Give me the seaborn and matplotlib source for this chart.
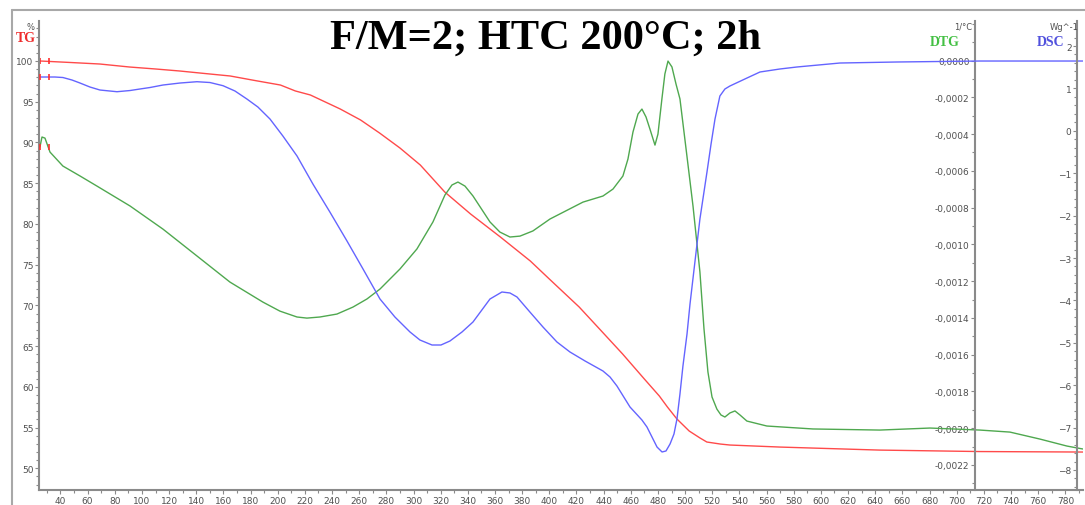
import matplotlib
matplotlib.use('Agg')
import matplotlib.pyplot as plt
import matplotlib.ticker as mticker
from matplotlib.lines import Line2D
import seaborn as sns
import pandas as pd

# TG curve, mass in %
tg_temp = [25, 47, 69, 91, 110, 128, 146, 165, 183, 202, 213, 224, 235, 246, 261,
           275, 290, 305, 323, 342, 364, 386, 400, 422, 437, 454, 470, 481, 487,
           494, 503, 511, 516, 526, 533, 570, 643, 717, 793]
tg_mass = [100.0, 99.82, 99.63, 99.26, 99.02, 98.77, 98.47, 98.16, 97.61, 97.05,
           96.32, 95.83, 94.97, 94.11, 92.76, 91.16, 89.32, 87.23, 83.92, 81.22,
           78.39, 75.45, 73.24, 69.80, 67.10, 64.03, 60.96, 58.88, 57.52, 56.05,
           54.58, 53.72, 53.23, 52.98, 52.86, 52.61, 52.24, 52.06, 52.0]

# DTG curve, 1/°C (read in units of 1e-4)
dtg_temp = [24.9, 26.4, 28.6, 32.3, 41.8, 54.4, 66.9, 91.2, 115.5, 140.5,
            164.8, 189.1, 201.6, 214.2, 221.5, 231.1, 243.6, 255.4, 265.7, 275.3,
            290.0, 302.5, 314.3, 323.1, 328.3, 332.7, 337.9, 343.8, 356.3, 363.6,
            371.0, 378.4, 387.9, 400.5, 424.8, 439.5, 446.9, 454.2, 457.9, 461.6,
            465.3, 468.2, 471.2, 474.1, 477.8, 480.0, 482.9, 485.1, 487.4, 490.3,
            493.3, 496.2, 500.7, 505.8, 510.9, 513.9, 516.8, 519.8, 523.4, 526.4,
            529.3, 533.0, 536.7, 540.4, 545.5, 560.2, 594.1, 643.4, 680.3, 717.1,
            739.2, 761.3, 781.2, 792.9]
dtg_e4 = [-4.70, -4.16, -4.22, -4.98, -5.74, -6.28, -6.83, -7.91, -9.17, -10.63,
          -12.05, -13.14, -13.63, -13.95, -14.01, -13.95, -13.79, -13.41, -12.97,
          -12.43, -11.34, -10.25, -8.78, -7.32, -6.77, -6.61, -6.83, -7.37, -8.78,
          -9.33, -9.60, -9.55, -9.27, -8.62, -7.70, -7.37, -6.99, -6.28, -5.36,
          -3.89, -2.91, -2.64, -3.07, -3.73, -4.60, -4.00, -2.09, -0.73, -0.03,
          -0.35, -1.28, -2.09, -4.81, -7.91, -11.50, -14.60, -16.94, -18.30,
          -18.96, -19.28, -19.39, -19.17, -19.06, -19.28, -19.61, -19.88, -20.04,
          -20.10, -19.99, -20.10, -20.21, -20.59, -20.97, -21.13]

# DSC curve, W/g
dsc_temp = [24.9, 35.9, 41.8, 48.5, 54.4, 61.7, 69.1, 81.6, 91.2, 98.5, 105.9,
            115.5, 128.0, 140.5, 150.1, 159.7, 168.5, 177.3, 185.4, 194.3, 203.8,
            214.2, 225.9, 238.4, 251.0, 262.8, 275.3, 286.3, 297.4, 304.7, 313.6,
            320.2, 326.8, 335.7, 343.8, 356.3, 365.1, 371.0, 376.2, 385.7, 395.3,
            405.6, 415.2, 426.3, 439.5, 444.7, 449.8, 459.4, 468.2, 471.9, 475.6,
            479.3, 483.0, 485.9, 488.9, 491.8, 494.0, 496.2, 498.4, 501.4, 503.6,
            507.3, 510.9, 516.1, 519.1, 522.0, 525.6, 529.3, 533.0, 544.0, 555.1,
            569.8, 582.3, 614.0, 656.0, 717.1, 792.9]
dsc_flow = [1.269, 1.269, 1.257, 1.198, 1.127, 1.033, 0.962, 0.922, 0.950, 0.986,
            1.021, 1.080, 1.127, 1.158, 1.139, 1.064, 0.939, 0.750, 0.561, 0.278,
            -0.123, -0.594, -1.255, -1.915, -2.599, -3.259, -3.967, -4.392, -4.745,
            -4.934, -5.052, -5.052, -4.958, -4.745, -4.509, -3.967, -3.802, -3.825,
            -3.920, -4.274, -4.627, -4.981, -5.217, -5.429, -5.665, -5.807, -6.019,
            -6.514, -6.821, -6.986, -7.222, -7.458, -7.575, -7.552, -7.387, -7.151,
            -6.797, -6.208, -5.547, -4.792, -4.085, -3.071, -2.080, -0.972, -0.311,
            0.278, 0.821, 0.986, 1.057, 1.222, 1.387, 1.458, 1.505, 1.599, 1.623,
            1.646, 1.646]

TG_COLOR = '#ff4a4a'
DTG_COLOR = '#4fa84f'
DSC_COLOR = '#6464ff'
AXIS_GREY = '#8a8a8a'
LABEL_GREY = '#505050'


def comma_fmt(decimals):
    def fmt(v, pos):
        if abs(v) < 1e-12:
            v = 0.0
        return f'{v:.{decimals}f}'.replace('.', ',')
    return mticker.FuncFormatter(fmt)


def style_axis(ax, spine_pos):
    for s in ax.spines.values():
        s.set_visible(False)
    ax.spines['left'].set_visible(True)
    ax.spines['left'].set_position(('axes', spine_pos))
    ax.spines['left'].set_color(AXIS_GREY)
    ax.spines['left'].set_linewidth(1.5)
    ax.yaxis.set_ticks_position('left')
    ax.tick_params(axis='y', which='major', direction='out', length=3,
                   width=0.8, color=AXIS_GREY, labelsize=6.5,
                   labelcolor=LABEL_GREY, pad=1)
    ax.tick_params(axis='y', which='minor', direction='out', length=2,
                   width=0.8, color=AXIS_GREY)


sns.set_theme(style='white')
plt.rcParams['font.family'] = ['DejaVu Sans']

fig = plt.figure(figsize=(10.85, 5.06), dpi=100)
ax = fig.add_axes([39 / 1085, 1 - 491 / 506, 1044 / 1085, 469 / 506])
ax.patch.set_alpha(0)

tg = pd.DataFrame({'temp': tg_temp, 'val': tg_mass})
dtg = pd.DataFrame({'temp': dtg_temp, 'val': [v * 1e-4 for v in dtg_e4]})
dsc = pd.DataFrame({'temp': dsc_temp, 'val': dsc_flow})

sns.lineplot(data=tg, x='temp', y='val', ax=ax, color=TG_COLOR, lw=1.0,
             sort=False, estimator=None)
ax.set_xlim(24.2, 793)
ax.set_ylim(47.34, 104.91)
style_axis(ax, 0)
ax.spines['bottom'].set_visible(True)
ax.spines['bottom'].set_color(AXIS_GREY)
ax.spines['bottom'].set_linewidth(1.5)
ax.set_yticks([50, 55, 60, 65, 70, 75, 80, 85, 90, 95, 100])
ax.yaxis.set_minor_locator(mticker.MultipleLocator(1))
ax.set_xticks(range(40, 781, 20))
ax.xaxis.set_minor_locator(mticker.MultipleLocator(10))
ax.tick_params(axis='x', which='major', direction='out', length=3, width=0.8,
               color=AXIS_GREY, labelsize=6.5, labelcolor=LABEL_GREY, pad=1,
               bottom=True)
ax.tick_params(axis='x', which='minor', direction='out', length=2, width=0.8,
               color=AXIS_GREY, bottom=True)
ax.set_xlabel('')
ax.set_ylabel('')

ax2 = ax.twinx()
sns.lineplot(data=dtg, x='temp', y='val', ax=ax2, color=DTG_COLOR, lw=1.0,
             sort=False, estimator=None)
ax2.set_ylim(-0.002336, 0.000215)
style_axis(ax2, 0.8966)
ax2.set_yticks([-0.0022 + 0.0002 * i for i in range(12)])
ax2.yaxis.set_minor_locator(mticker.MultipleLocator(0.0001))
ax2.yaxis.set_major_formatter(comma_fmt(4))
ax2.set_ylabel('')

ax3 = ax.twinx()
sns.lineplot(data=dsc, x='temp', y='val', ax=ax3, color=DSC_COLOR, lw=1.0,
             sort=False, estimator=None)
ax3.set_ylim(-8.472, 2.59)
style_axis(ax3, 0.9943)
ax3.set_yticks(range(-8, 3))
ax3.yaxis.set_minor_locator(mticker.MultipleLocator(0.2))
ax3.set_ylabel('')

# curve start markers
for a, df in [(ax, tg), (ax2, dtg), (ax3, dsc)]:
    x0 = df['temp'].iloc[0]
    y0 = df['val'].iloc[0]
    a.plot([x0, x0 + 6.6], [y0, y0], ls='none', marker='|', ms=5, mew=1.2,
           color='#ff3030', clip_on=False)

# unit labels and curve names
fig.text(30 / 1085, 1 - 27 / 506, '%', fontsize=6, color=LABEL_GREY,
         ha='center', va='center')
fig.text(26 / 1085, 1 - 38 / 506, 'TG', fontsize=10, color='#ee2c2c',
         fontweight='bold', family='Liberation Serif', ha='center', va='center')
fig.text(963 / 1085, 1 - 27 / 506, '1/°C', fontsize=6, color=LABEL_GREY,
         ha='center', va='center')
fig.text(945 / 1085, 1 - 42 / 506, 'DTG', fontsize=10, color='#44c044',
         fontweight='bold', family='Liberation Serif', ha='center', va='center')
fig.text(1064 / 1085, 1 - 27 / 506, 'Wg^-1', fontsize=6, color=LABEL_GREY,
         ha='center', va='center')
fig.text(1051 / 1085, 1 - 43 / 506, 'DSC', fontsize=10, color='#5050dd',
         fontweight='bold', family='Liberation Serif', ha='center', va='center')

fig.text(545 / 1085, 1 - 39 / 506, 'F/M=2; HTC 200°C; 2h', fontsize=30.5,
         fontweight='bold', family='Liberation Serif', color='black',
         ha='center', va='center')

# outer frame
fig.add_artist(Line2D([12 / 1085, 12 / 1085], [0, 1 - 11 / 506],
                      transform=fig.transFigure, color='#a8a8a8', lw=1.5))
fig.add_artist(Line2D([12 / 1085, 1], [1 - 11 / 506, 1 - 11 / 506],
                      transform=fig.transFigure, color='#a8a8a8', lw=1.5))

fig.savefig('out.png', dpi=100)
